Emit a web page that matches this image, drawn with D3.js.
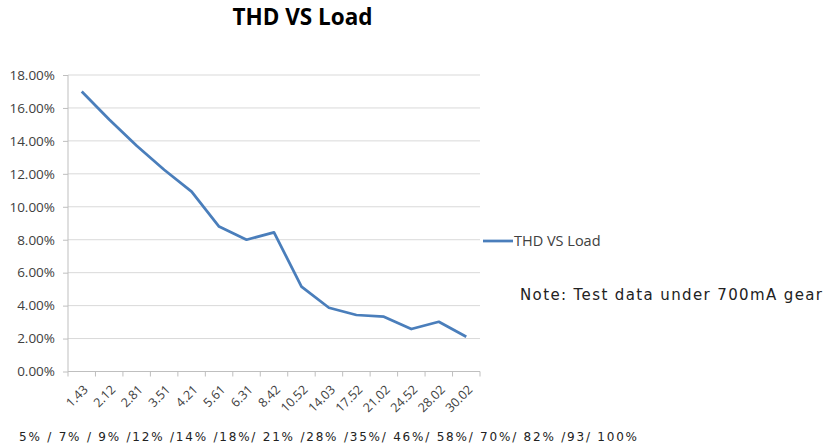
<!DOCTYPE html>
<html lang="en">
<head>
<meta charset="utf-8">
<title>THD VS Load</title>
<script type="text/javascript" src="https://cdnjs.cloudflare.com/ajax/libs/d3/7.8.5/d3.min.js"></script>
<style>
body { margin: 0; background: #fff; }
.axis text { font-family: "Open Sans", sans-serif; fill: #404040; }
.grid line { stroke: #d9d9d9; }
</style>
</head>
<body>
<div id="chart"></div>
<script type="text/javascript">

var loads = ["1.43", "2.12", "2.81", "3.51", "4.21", "5.61", "6.31", "8.42", "10.52", "14.03", "17.52", "21.02", "24.52", "28.02", "30.02"];
var thd = [17.0, 15.3, 13.7, 12.25, 10.92, 8.8, 8.0, 8.45, 5.15, 3.87, 3.43, 3.33, 2.58, 3.02, 2.11];
var yTicks = [0, 2, 4, 6, 8, 10, 12, 14, 16, 18];
var seriesName = "THD VS Load";
var loadPercent = "5% / 7% / 9% /12% /14% /18%/ 21% /28% /35%/ 46%/ 58%/ 70%/ 82% /93/ 100%";
var note = "Note: Test data under 700mA gear";

var width = 828, height = 446;
var plot = {left: 68, right: 480, top: 75, bottom: 371.5};

var svg = d3.select("#chart").append("svg")
    .attr("width", width)
    .attr("height", height);

var x = d3.scaleBand().domain(loads).range([plot.left, plot.right]);
var y = d3.scaleLinear().domain([0, 18]).range([plot.bottom, plot.top]);

// gridlines
svg.append("g")
    .attr("class", "grid")
    .selectAll("line")
    .data(yTicks.filter(function(d) { return d > 0; }))
    .enter().append("line")
        .attr("x1", plot.left)
        .attr("x2", plot.right)
        .attr("y1", function(d) { return y(d); })
        .attr("y2", function(d) { return y(d); });

// y axis
var yAxis = svg.append("g")
    .attr("class", "axis")
    .attr("transform", "translate(" + plot.left + ",0)")
    .call(d3.axisLeft(y).tickValues(yTicks).tickSize(5).tickPadding(8)
        .tickFormat(function(d) { return d.toFixed(2) + "%"; }));
yAxis.select(".domain").attr("stroke", "#bfbfbf").attr("d", "M0," + plot.top + "V" + plot.bottom);
yAxis.selectAll(".tick line").attr("stroke", "#bfbfbf");
yAxis.selectAll("text").style("font-size", "13.5px").attr("fill", "#404040");

// x axis
var xAxis = svg.append("g")
    .attr("class", "axis")
    .attr("transform", "translate(0," + plot.bottom + ")")
    .call(d3.axisBottom(x).tickSize(0).tickPadding(0));
xAxis.select(".domain").attr("stroke", "#bfbfbf").attr("d", "M" + plot.left + ",0H" + plot.right);
xAxis.selectAll(".tick text")
    .style("font-size", "12.5px")
    .attr("fill", "#404040")
    .attr("text-anchor", "end")
    .attr("dy", null)
    .attr("transform", "translate(7,19) rotate(-45)");

// category boundary ticks
svg.append("g")
    .selectAll("line")
    .data(loads.concat(["end"]))
    .enter().append("line")
        .attr("x1", function(d, i) { return plot.left + i * x.step(); })
        .attr("x2", function(d, i) { return plot.left + i * x.step(); })
        .attr("y1", plot.bottom)
        .attr("y2", plot.bottom + 5)
        .attr("stroke", "#bfbfbf");

// series line
var line = d3.line()
    .x(function(d, i) { return x(loads[i]) + x.bandwidth() / 2; })
    .y(function(d) { return y(d); });

svg.append("path")
    .datum(thd)
    .attr("fill", "none")
    .attr("stroke", "#4a7ebb")
    .attr("stroke-width", 2.75)
    .attr("stroke-linejoin", "round")
    .attr("d", line);

// title
svg.append("text")
    .attr("x", 302.5)
    .attr("y", 25)
    .attr("text-anchor", "middle")
    .style("font-family", "'Open Sans', sans-serif")
    .style("font-weight", "bold")
    .style("font-size", "22.5px")
    .attr("fill", "#000")
    .text(seriesName);

// legend
svg.append("line")
    .attr("x1", 483).attr("x2", 513)
    .attr("y1", 241).attr("y2", 241)
    .attr("stroke", "#4a7ebb")
    .attr("stroke-width", 2.75);
svg.append("text")
    .attr("x", 514)
    .attr("y", 246)
    .style("font-family", "'Open Sans', sans-serif")
    .style("font-size", "14.5px")
    .attr("fill", "#404040")
    .text(seriesName);

// note
svg.append("text")
    .attr("x", 520)
    .attr("y", 300)
    .attr("textLength", 302)
    .attr("lengthAdjust", "spacing")
    .style("font-family", "'DejaVu Sans', sans-serif")
    .style("font-size", "15px")
    .attr("fill", "#222")
    .text(note);

// load percentage line
svg.append("text")
    .attr("x", 19)
    .attr("y", 441)
    .attr("textLength", 618)
    .attr("lengthAdjust", "spacing")
    .style("font-family", "'DejaVu Sans', sans-serif")
    .style("font-size", "12px")
    .attr("fill", "#222")
    .text(loadPercent);

</script>
</body>
</html>
